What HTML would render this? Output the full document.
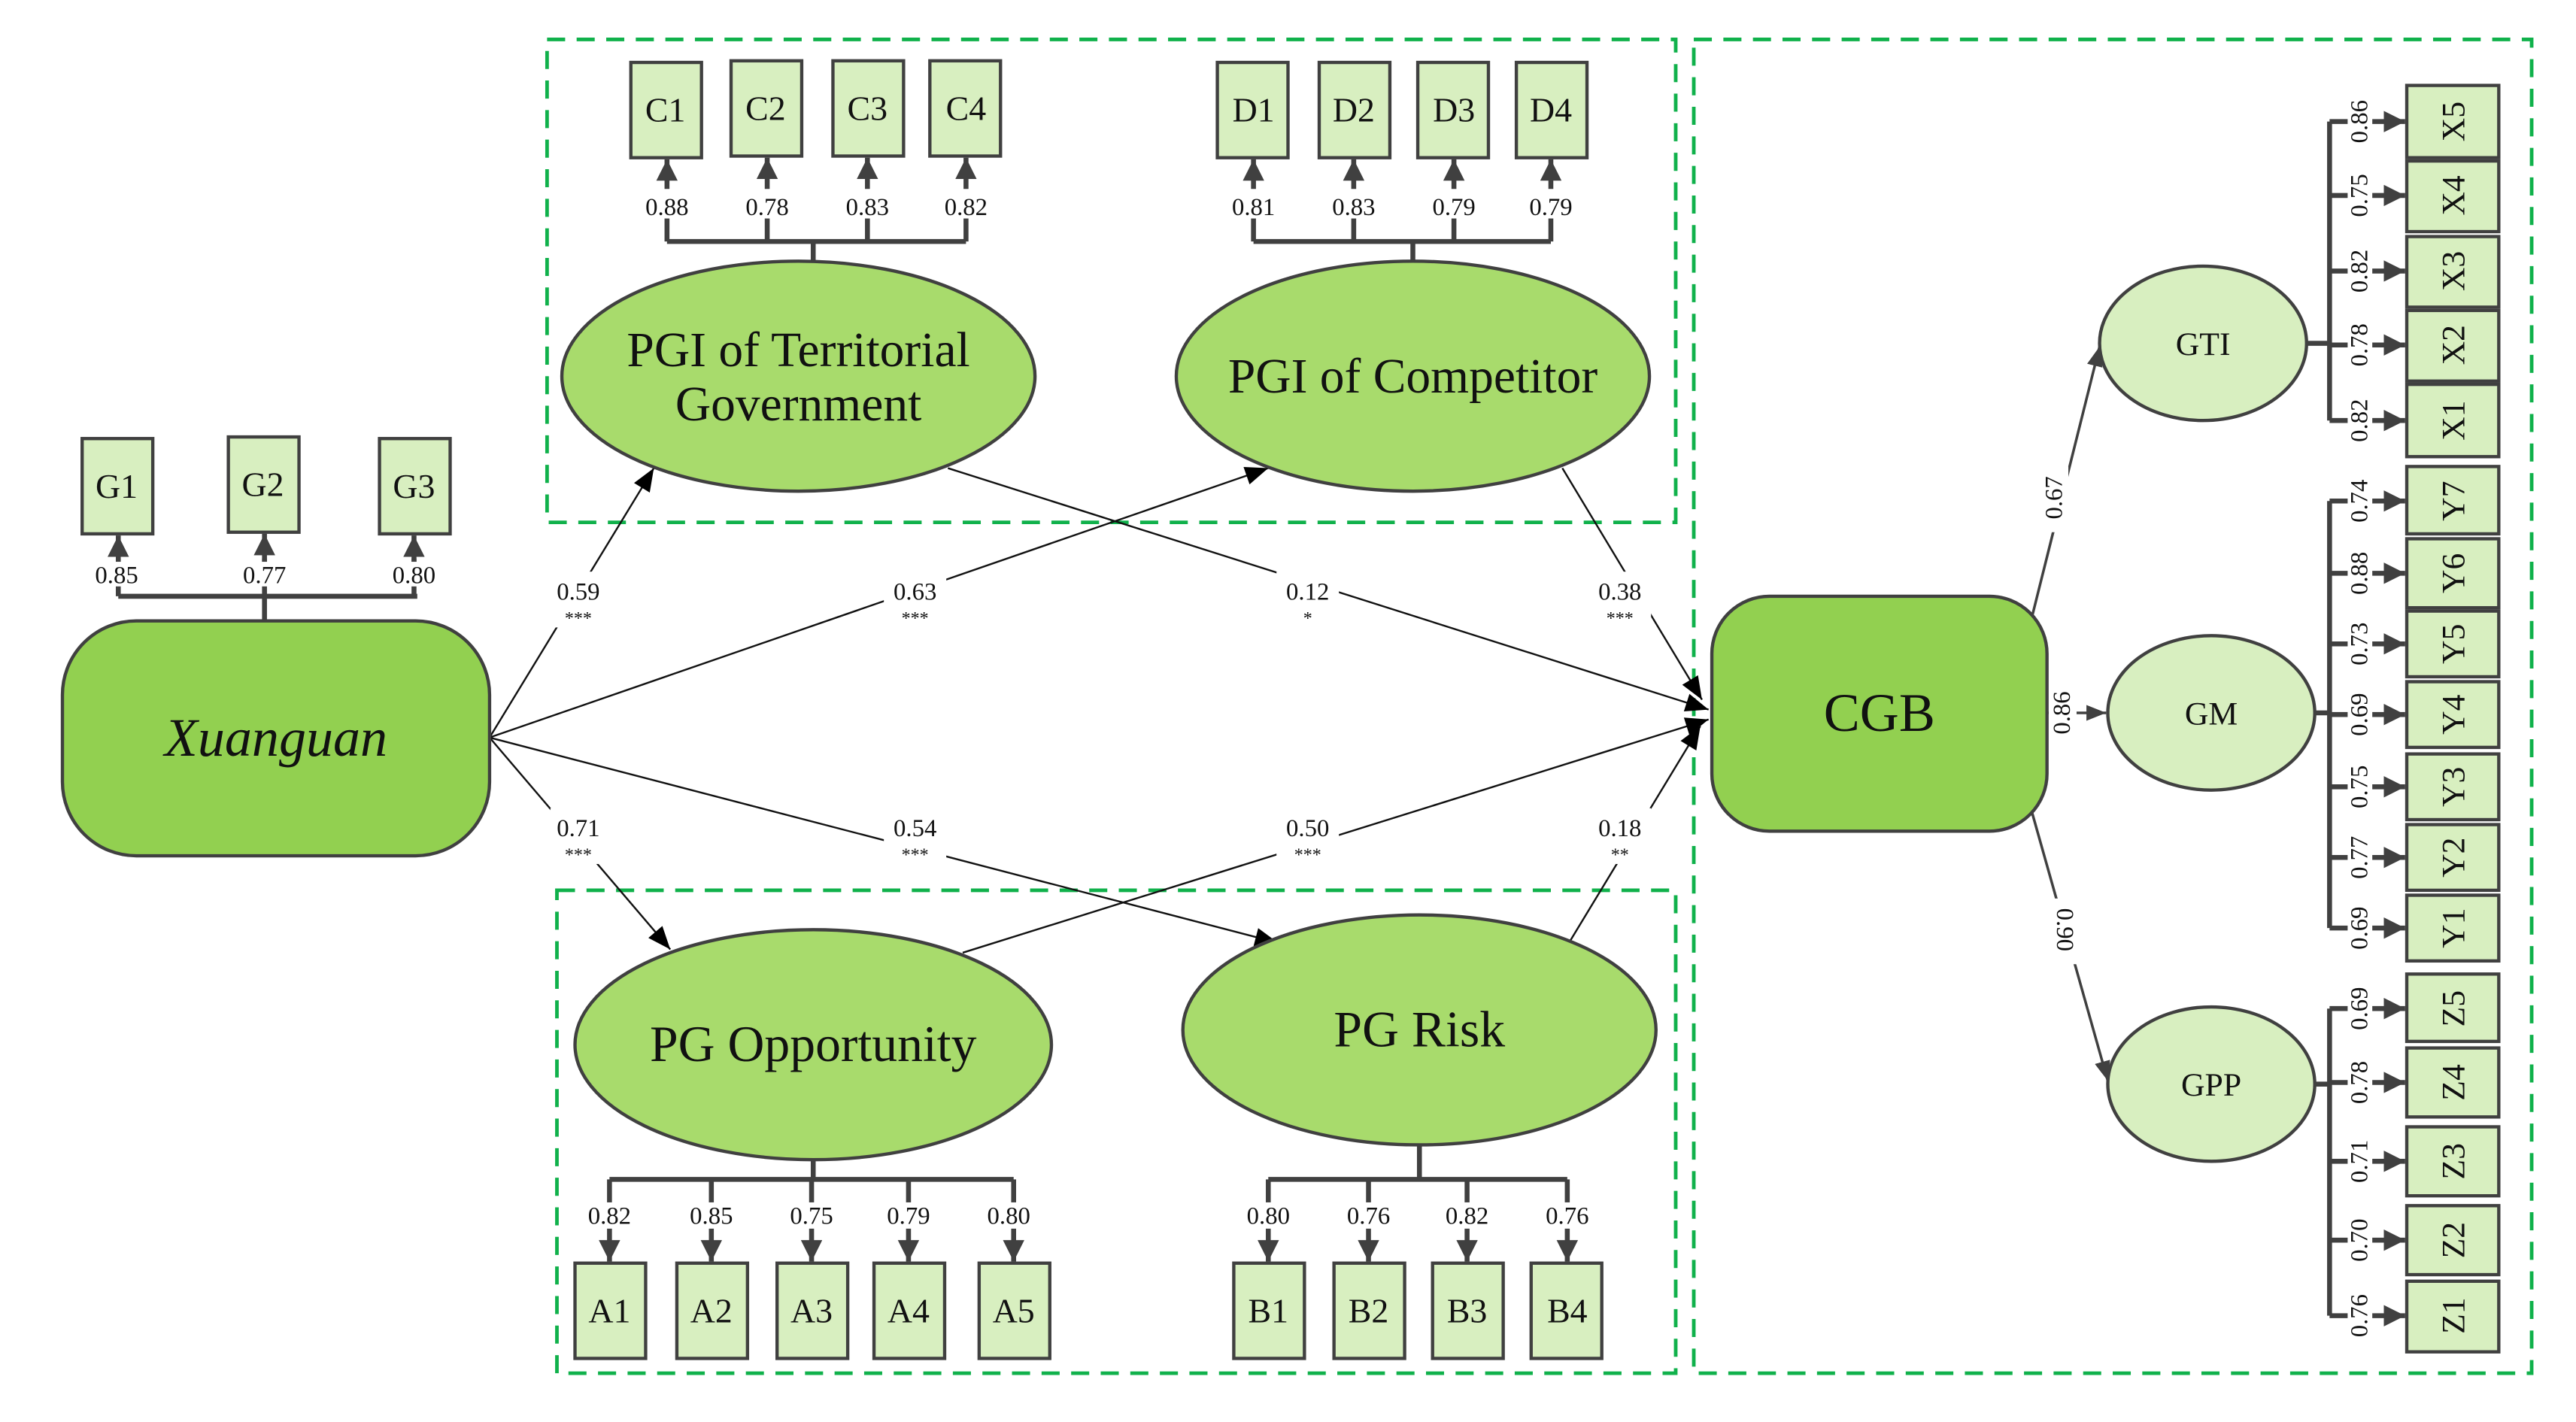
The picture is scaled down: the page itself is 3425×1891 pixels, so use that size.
<!DOCTYPE html>
<html><head><meta charset="utf-8"><style>
html,body{margin:0;padding:0;background:#fff;}
svg{display:block;}
text{font-family:"Liberation Serif",serif;fill:#111;}
.ob{fill:#d8efc0;stroke:#404040;stroke-width:2;}
.el{fill:#a8db6c;stroke:#404040;stroke-width:2;}
.br{fill:none;stroke:#404040;stroke-width:3;}
.pa{stroke:#111;stroke-width:1.1;fill:none;}
.dash{fill:none;stroke:#10b14b;stroke-width:2.2;stroke-dasharray:11 7;}
.lb{font-size:15px;text-anchor:middle;}
.bx{font-size:21px;text-anchor:middle;}
</style></head><body>
<svg width="3425" height="1891" viewBox="0 0 1568 865.7" xmlns="http://www.w3.org/2000/svg">
<defs>
<marker id="ah" viewBox="0 0 10 10" refX="10" refY="5" markerWidth="13" markerHeight="13" orient="auto" markerUnits="userSpaceOnUse"><path d="M0,0L10,5L0,10z" fill="#404040"/></marker>
<marker id="ab" viewBox="0 0 10 10" refX="10" refY="5" markerWidth="18" markerHeight="14" orient="auto" markerUnits="userSpaceOnUse"><path d="M0,1L10,5L0,9z" fill="#000"/></marker>
<marker id="am" viewBox="0 0 10 10" refX="10" refY="5" markerWidth="12" markerHeight="12" orient="auto" markerUnits="userSpaceOnUse"><path d="M0,1L10,5L0,9z" fill="#404040"/></marker>
</defs>
<rect class="dash" x="333" y="24" width="687" height="294"/>
<rect class="dash" x="339" y="542" width="681" height="294"/>
<rect class="dash" x="1031" y="24" width="510" height="812"/>

<g class="pa" marker-end="url(#ab)">
<line x1="298" y1="449" x2="398" y2="285"/>
<line x1="298" y1="449" x2="772" y2="285"/>
<line x1="298" y1="449" x2="408" y2="578"/>
<line x1="298" y1="449" x2="778" y2="574"/>
<line x1="577" y1="285" x2="1040" y2="432"/>
<line x1="951" y1="285" x2="1036" y2="426"/>
<line x1="586" y1="580" x2="1040" y2="438"/>
<line x1="955" y1="574" x2="1035" y2="442"/>
</g>
<g class="pa" style="stroke:#404040;stroke-width:1.6" marker-end="url(#am)">
<line x1="1237" y1="375" x2="1278" y2="211"/>
<line x1="1246" y1="434" x2="1282" y2="434"/>
<line x1="1237" y1="495" x2="1283" y2="658"/>
</g>
<g class="lb">
<rect x="335" y="348" width="36" height="34" fill="#fff"/><text x="352" y="365">0.59</text><text x="352" y="380" font-size="11">***</text>
<rect x="538" y="348" width="38" height="34" fill="#fff"/><text x="557" y="365">0.63</text><text x="557" y="380" font-size="11">***</text>
<rect x="777" y="348" width="38" height="34" fill="#fff"/><text x="796" y="365">0.12</text><text x="796" y="380" font-size="11">*</text>
<rect x="967" y="348" width="38" height="34" fill="#fff"/><text x="986" y="365">0.38</text><text x="986" y="380" font-size="11">***</text>
<rect x="335" y="492" width="36" height="34" fill="#fff"/><text x="352" y="509">0.71</text><text x="352" y="524" font-size="11">***</text>
<rect x="538" y="492" width="38" height="34" fill="#fff"/><text x="557" y="509">0.54</text><text x="557" y="524" font-size="11">***</text>
<rect x="777" y="492" width="38" height="34" fill="#fff"/><text x="796" y="509">0.50</text><text x="796" y="524" font-size="11">***</text>
<rect x="967" y="492" width="38" height="34" fill="#fff"/><text x="986" y="509">0.18</text><text x="986" y="524" font-size="11">**</text>
<rect x="1242" y="284" width="17" height="40" fill="#fff"/><text transform="translate(1255,303) rotate(-90)">0.67</text>
<rect x="1247" y="416" width="17" height="36" fill="#fff"/><text transform="translate(1260,434) rotate(-90)">0.86</text>
<rect x="1250" y="547" width="17" height="40" fill="#fff"/><text transform="translate(1252,566) rotate(90)">0.90</text>
</g>

<path class="br" d="M72,363H254M161,363V378M72,363V340M161,363V340M252,363V340"/>
<g class="br" marker-end="url(#ah)"><line x1="72" y1="345" x2="72" y2="326"/><line x1="161" y1="345" x2="161" y2="325"/><line x1="252" y1="345" x2="252" y2="326"/></g>
<rect class="ob" x="50" y="267" width="43" height="58"/><rect class="ob" x="139" y="266" width="43" height="58"/><rect class="ob" x="231" y="267" width="43" height="58"/>
<g class="bx"><text x="71" y="303">G1</text><text x="160" y="302">G2</text><text x="252" y="303">G3</text></g>
<g class="lb"><rect x="55" y="342" width="34" height="15" fill="#fff"/><text x="71" y="355">0.85</text><rect x="144" y="342" width="34" height="15" fill="#fff"/><text x="161" y="355">0.77</text><rect x="235" y="342" width="34" height="15" fill="#fff"/><text x="252" y="355">0.80</text></g>
<rect x="38" y="378" width="260" height="143" rx="45" fill="#92d050" stroke="#404040" stroke-width="2"/>
<text x="168" y="460" font-size="33" font-style="italic" text-anchor="middle">Xuanguan</text>

<path class="br" d="M406,147H588M495,147V160M406,147V120M467,147V120M528,147V120M588,147V120"/>
<g class="br" marker-end="url(#ah)"><line x1="406" y1="115" x2="406" y2="97"/><line x1="467" y1="115" x2="467" y2="96"/><line x1="528" y1="115" x2="528" y2="96"/><line x1="588" y1="115" x2="588" y2="96"/></g>
<g class="ob"><rect x="384" y="38" width="43" height="58"/><rect x="445" y="37" width="43" height="58"/><rect x="507" y="37" width="43" height="58"/><rect x="566" y="37" width="43" height="58"/></g>
<g class="bx"><text x="405" y="74">C1</text><text x="466" y="73">C2</text><text x="528" y="73">C3</text><text x="588" y="73">C4</text></g>
<g class="lb"><rect x="389" y="118" width="34" height="15" fill="#fff"/><text x="406" y="131">0.88</text><rect x="450" y="118" width="34" height="15" fill="#fff"/><text x="467" y="131">0.78</text><rect x="511" y="118" width="34" height="15" fill="#fff"/><text x="528" y="131">0.83</text><rect x="571" y="118" width="34" height="15" fill="#fff"/><text x="588" y="131">0.82</text></g>
<path class="br" d="M763,147H944M860,147V160M763,147V120M824,147V120M885,147V120M944,147V120"/>
<g class="br" marker-end="url(#ah)"><line x1="763" y1="115" x2="763" y2="97"/><line x1="824" y1="115" x2="824" y2="97"/><line x1="885" y1="115" x2="885" y2="97"/><line x1="944" y1="115" x2="944" y2="97"/></g>
<g class="ob"><rect x="741" y="38" width="43" height="58"/><rect x="803" y="38" width="43" height="58"/><rect x="863" y="38" width="43" height="58"/><rect x="923" y="38" width="43" height="58"/></g>
<g class="bx"><text x="763" y="74">D1</text><text x="824" y="74">D2</text><text x="885" y="74">D3</text><text x="944" y="74">D4</text></g>
<g class="lb"><rect x="746" y="118" width="34" height="15" fill="#fff"/><text x="763" y="131">0.81</text><rect x="807" y="118" width="34" height="15" fill="#fff"/><text x="824" y="131">0.83</text><rect x="868" y="118" width="34" height="15" fill="#fff"/><text x="885" y="131">0.79</text><rect x="927" y="118" width="34" height="15" fill="#fff"/><text x="944" y="131">0.79</text></g>

<ellipse class="el" cx="486" cy="229" rx="144" ry="70"/>
<text x="486" y="223" font-size="30" text-anchor="middle">PGI of Territorial</text>
<text x="486" y="256" font-size="30" text-anchor="middle">Government</text>
<ellipse class="el" cx="860" cy="229" rx="144" ry="70"/>
<text x="860" y="239" font-size="30" text-anchor="middle">PGI of Competitor</text>
<ellipse class="el" cx="495" cy="636" rx="145" ry="70"/>
<text x="495" y="646" font-size="31" text-anchor="middle">PG Opportunity</text>
<ellipse class="el" cx="864" cy="627" rx="144" ry="70"/>
<text x="864" y="637" font-size="31" text-anchor="middle">PG Risk</text>

<path class="br" d="M371,718H617M495,706V718M371,718V745M433,718V745M494,718V745M553,718V745M617,718V745"/>
<g class="br" marker-end="url(#ah)"><line x1="371" y1="748" x2="371" y2="768"/><line x1="433" y1="748" x2="433" y2="768"/><line x1="494" y1="748" x2="494" y2="768"/><line x1="553" y1="748" x2="553" y2="768"/><line x1="617" y1="748" x2="617" y2="768"/></g>
<g class="ob"><rect x="350" y="769" width="43" height="58"/><rect x="412" y="769" width="43" height="58"/><rect x="473" y="769" width="43" height="58"/><rect x="532" y="769" width="43" height="58"/><rect x="596" y="769" width="43" height="58"/></g>
<g class="bx"><text x="371" y="805">A1</text><text x="433" y="805">A2</text><text x="494" y="805">A3</text><text x="553" y="805">A4</text><text x="617" y="805">A5</text></g>
<g class="lb"><rect x="354" y="732" width="34" height="15" fill="#fff"/><text x="371" y="745">0.82</text><rect x="416" y="732" width="34" height="15" fill="#fff"/><text x="433" y="745">0.85</text><rect x="477" y="732" width="34" height="15" fill="#fff"/><text x="494" y="745">0.75</text><rect x="536" y="732" width="34" height="15" fill="#fff"/><text x="553" y="745">0.79</text><rect x="598" y="732" width="34" height="15" fill="#fff"/><text x="614" y="745">0.80</text></g>
<path class="br" d="M772,718H954M864,697V718M772,718V745M833,718V745M893,718V745M954,718V745"/>
<g class="br" marker-end="url(#ah)"><line x1="772" y1="748" x2="772" y2="768"/><line x1="833" y1="748" x2="833" y2="768"/><line x1="893" y1="748" x2="893" y2="768"/><line x1="954" y1="748" x2="954" y2="768"/></g>
<g class="ob"><rect x="751" y="769" width="43" height="58"/><rect x="812" y="769" width="43" height="58"/><rect x="872" y="769" width="43" height="58"/><rect x="932" y="769" width="43" height="58"/></g>
<g class="bx"><text x="772" y="805">B1</text><text x="833" y="805">B2</text><text x="893" y="805">B3</text><text x="954" y="805">B4</text></g>
<g class="lb"><rect x="755" y="732" width="34" height="15" fill="#fff"/><text x="772" y="745">0.80</text><rect x="816" y="732" width="34" height="15" fill="#fff"/><text x="833" y="745">0.76</text><rect x="876" y="732" width="34" height="15" fill="#fff"/><text x="893" y="745">0.82</text><rect x="937" y="732" width="34" height="15" fill="#fff"/><text x="954" y="745">0.76</text></g>

<rect x="1042" y="363" width="204" height="143" rx="35" fill="#92d050" stroke="#404040" stroke-width="2"/>
<text x="1144" y="445" font-size="33" text-anchor="middle">CGB</text>

<g class="ob"><ellipse cx="1341" cy="209" rx="63" ry="47"/><ellipse cx="1346" cy="434" rx="63" ry="47"/><ellipse cx="1346" cy="660" rx="63" ry="47"/></g>
<g font-size="20" text-anchor="middle"><text x="1341" y="216">GTI</text><text x="1346" y="441">GM</text><text x="1346" y="667">GPP</text></g>

<path class="br" d="M1404,209H1418M1418,74V256M1409,434H1418M1418,305V565M1409,660H1418M1418,614V801"/>
<g class="br" marker-end="url(#ah)">
<line x1="1418" y1="74" x2="1464" y2="74"/><line x1="1418" y1="119" x2="1464" y2="119"/><line x1="1418" y1="165" x2="1464" y2="165"/><line x1="1418" y1="210" x2="1464" y2="210"/><line x1="1418" y1="256" x2="1464" y2="256"/>
<line x1="1418" y1="305" x2="1464" y2="305"/><line x1="1418" y1="349" x2="1464" y2="349"/><line x1="1418" y1="392" x2="1464" y2="392"/><line x1="1418" y1="435" x2="1464" y2="435"/><line x1="1418" y1="479" x2="1464" y2="479"/><line x1="1418" y1="522" x2="1464" y2="522"/><line x1="1418" y1="565" x2="1464" y2="565"/>
<line x1="1418" y1="614" x2="1464" y2="614"/><line x1="1418" y1="659" x2="1464" y2="659"/><line x1="1418" y1="707" x2="1464" y2="707"/><line x1="1418" y1="755" x2="1464" y2="755"/><line x1="1418" y1="801" x2="1464" y2="801"/>
</g>
<g class="ob">
<rect x="1465" y="52" width="56" height="44"/><rect x="1465" y="98" width="56" height="43"/><rect x="1465" y="144" width="56" height="43"/><rect x="1465" y="189" width="56" height="43"/><rect x="1465" y="234" width="56" height="44"/>
<rect x="1465" y="284" width="56" height="41"/><rect x="1465" y="328" width="56" height="42"/><rect x="1465" y="372" width="56" height="40"/><rect x="1465" y="415" width="56" height="40"/><rect x="1465" y="459" width="56" height="40"/><rect x="1465" y="502" width="56" height="40"/><rect x="1465" y="545" width="56" height="40"/>
<rect x="1465" y="593" width="56" height="41"/><rect x="1465" y="638" width="56" height="42"/><rect x="1465" y="686" width="56" height="42"/><rect x="1465" y="734" width="56" height="42"/><rect x="1465" y="780" width="56" height="43"/>
</g>
<g font-size="20" text-anchor="middle">
<text transform="translate(1500,74) rotate(-90)">X5</text><text transform="translate(1500,119) rotate(-90)">X4</text><text transform="translate(1500,165) rotate(-90)">X3</text><text transform="translate(1500,210) rotate(-90)">X2</text><text transform="translate(1500,256) rotate(-90)">X1</text>
<text transform="translate(1500,305) rotate(-90)">Y7</text><text transform="translate(1500,349) rotate(-90)">Y6</text><text transform="translate(1500,392) rotate(-90)">Y5</text><text transform="translate(1500,435) rotate(-90)">Y4</text><text transform="translate(1500,479) rotate(-90)">Y3</text><text transform="translate(1500,522) rotate(-90)">Y2</text><text transform="translate(1500,565) rotate(-90)">Y1</text>
<text transform="translate(1500,614) rotate(-90)">Z5</text><text transform="translate(1500,659) rotate(-90)">Z4</text><text transform="translate(1500,707) rotate(-90)">Z3</text><text transform="translate(1500,755) rotate(-90)">Z2</text><text transform="translate(1500,801) rotate(-90)">Z1</text>
</g>
<g class="lb" font-size="14">
<g style="fill:#fff"><rect x="1429" y="58" width="15" height="32"/><rect x="1429" y="103" width="15" height="32"/><rect x="1429" y="149" width="15" height="32"/><rect x="1429" y="194" width="15" height="32"/><rect x="1429" y="240" width="15" height="32"/><rect x="1429" y="289" width="15" height="32"/><rect x="1429" y="333" width="15" height="32"/><rect x="1429" y="376" width="15" height="32"/><rect x="1429" y="419" width="15" height="32"/><rect x="1429" y="463" width="15" height="32"/><rect x="1429" y="506" width="15" height="32"/><rect x="1429" y="549" width="15" height="32"/><rect x="1429" y="598" width="15" height="32"/><rect x="1429" y="643" width="15" height="32"/><rect x="1429" y="691" width="15" height="32"/><rect x="1429" y="739" width="15" height="32"/><rect x="1429" y="785" width="15" height="32"/></g>
<text transform="translate(1441,74) rotate(-90)">0.86</text><text transform="translate(1441,119) rotate(-90)">0.75</text><text transform="translate(1441,165) rotate(-90)">0.82</text><text transform="translate(1441,210) rotate(-90)">0.78</text><text transform="translate(1441,256) rotate(-90)">0.82</text>
<text transform="translate(1441,305) rotate(-90)">0.74</text><text transform="translate(1441,349) rotate(-90)">0.88</text><text transform="translate(1441,392) rotate(-90)">0.73</text><text transform="translate(1441,435) rotate(-90)">0.69</text><text transform="translate(1441,479) rotate(-90)">0.75</text><text transform="translate(1441,522) rotate(-90)">0.77</text><text transform="translate(1441,565) rotate(-90)">0.69</text>
<text transform="translate(1441,614) rotate(-90)">0.69</text><text transform="translate(1441,659) rotate(-90)">0.78</text><text transform="translate(1441,707) rotate(-90)">0.71</text><text transform="translate(1441,755) rotate(-90)">0.70</text><text transform="translate(1441,801) rotate(-90)">0.76</text>
</g>
</svg>
</body></html>
